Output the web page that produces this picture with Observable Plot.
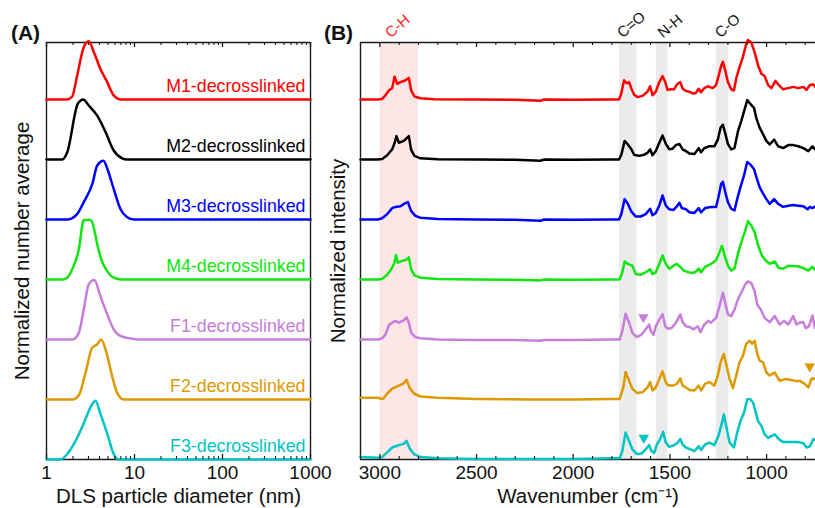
<!DOCTYPE html>
<html><head><meta charset="utf-8">
<script src="https://cdn.jsdelivr.net/npm/d3@7"></script>
<script src="https://cdn.jsdelivr.net/npm/@observablehq/plot@0.6"></script>
<style>
html,body{margin:0;padding:0;background:#fff;overflow:hidden;}
#chart{position:relative;width:815px;height:508px;}
#chart svg{position:absolute;top:0;overflow:visible;background:transparent;}
</style></head><body><div id="chart"></div>
<script>
// ---------- data ----------
const sampleNames = ["M1-decrosslinked","M2-decrosslinked","M3-decrosslinked","M4-decrosslinked","F1-decrosslinked","F2-decrosslinked","F3-decrosslinked"];
const stackOffsetA = [6,5,4,3,2,1,0];
const stackOffsetB = [6,5,4,3,2,1.02,0.03];

// DLS: [diameter nm, normalized number]
const dlsM1 = [[1,0],[1.7,0],[1.96,0.05],[2.23,0.4],[2.65,0.87],[3.02,0.97],[3.45,0.79],[4.1,0.51],[4.9,0.29],[5.8,0.07],[7.1,0],[1000,0]];
const dlsM2 = [[1,0],[1.51,0],[1.72,0.12],[2.27,0.93],[2.61,1.0],[3.02,0.9],[3.77,0.73],[4.68,0.46],[5.8,0.15],[7.25,0.02],[8.2,0],[1000,0]];
const dlsM3 = [[1,0],[1.72,0],[2.23,0.09],[2.65,0.29],[3.33,0.6],[3.77,0.9],[4.45,0.98],[4.9,0.85],[5.8,0.51],[6.9,0.18],[8.2,0.04],[9.8,0],[1000,0]];
const dlsM4 = [[1,0],[1.51,0],[1.72,0.03],[1.96,0.17],[2.33,0.5],[2.65,0.99],[3.17,0.99],[3.9,0.5],[4.2,0.33],[4.9,0.14],[5.8,0.03],[7.1,0],[1000,0]];
const dlsF1 = [[1,0],[1.98,0],[2.33,0.11],[2.65,0.5],[3.02,0.92],[3.5,0.99],[4.1,0.72],[4.9,0.42],[5.8,0.17],[6.9,0.06],[9.8,0.01],[12,0],[1000,0]];
const dlsF2 = [[1,0],[1.98,0],[2.33,0.07],[2.77,0.44],[3.3,0.86],[3.77,0.92],[4.18,1.0],[4.8,0.78],[5.57,0.39],[6.35,0.11],[7.57,0],[1000,0]];
const dlsF3 = [[1,0],[1.44,0],[1.72,0.09],[2.05,0.26],[2.65,0.6],[3.16,0.87],[3.6,0.98],[4.1,0.76],[4.9,0.43],[5.8,0.09],[6.6,0],[1000,0]];

// FTIR: [wavenumber cm-1, normalized intensity]
const ftirM1 = [[3100,0],[3010,0],[2988,0.01],[2971,0.07],[2953,0.15],[2936,0.19],[2924,0.38],[2910,0.26],[2893,0.29],[2867,0.32],[2850,0.36],[2838,0.15],[2821,0.05],[2790,0.02],[2720,0.005],[2500,0],[2300,-0.005],[2170,-0.02],[2150,0],[2000,-0.005],[1800,0],[1763,0],
 [1751,0.10],[1737,0.32],[1724,0.27],[1711,0.29],[1699,0.18],[1685,0.08],[1668,0.04],[1642,0.06],[1616,0.13],[1602,0.22],[1590,0.07],[1573,0.13],[1555,0.29],[1538,0.39],[1524,0.29],[1512,0.16],[1495,0.17],[1478,0.17],[1464,0.25],[1446,0.29],[1434,0.18],[1417,0.14],[1399,0.13],[1382,0.10],[1365,0.11],[1351,0.18],[1339,0.12],[1322,0.19],[1304,0.22],[1278,0.19],[1261,0.24],[1249,0.38],[1235,0.56],[1226,0.63],[1214,0.49],[1200,0.29],[1183,0.17],[1169,0.15],[1157,0.35],[1140,0.54],[1122,0.71],[1105,0.93],[1096,0.99],[1079,0.95],[1062,0.79],[1044,0.57],[1027,0.43],[1010,0.39],[992,0.24],[975,0.19],[954,0.31],[937,0.24],[914,0.17],[888,0.19],[862,0.21],[836,0.19],[810,0.21],[793,0.16],[776,0.24],[758,0.25],[741,0.18]];
const ftirM2 = [[3100,0],[3010,0],[2988,0.01],[2962,0.07],[2936,0.17],[2924,0.27],[2914,0.39],[2902,0.28],[2876,0.31],[2850,0.39],[2838,0.16],[2821,0.06],[2790,0.02],[2700,0.005],[2500,0],[2300,-0.005],[2170,-0.02],[2150,0],[2000,-0.005],[1800,0],[1763,0],
 [1751,0.08],[1734,0.31],[1717,0.25],[1699,0.17],[1685,0.08],[1659,0.06],[1633,0.08],[1616,0.11],[1602,0.17],[1590,0.07],[1573,0.14],[1555,0.28],[1538,0.40],[1521,0.26],[1503,0.17],[1486,0.18],[1469,0.24],[1451,0.26],[1434,0.17],[1417,0.14],[1399,0.10],[1373,0.09],[1351,0.19],[1339,0.12],[1322,0.19],[1296,0.22],[1270,0.22],[1252,0.33],[1238,0.53],[1226,0.58],[1214,0.44],[1200,0.26],[1183,0.17],[1166,0.19],[1148,0.47],[1131,0.64],[1114,0.83],[1100,0.99],[1082,0.92],[1065,0.86],[1053,0.69],[1036,0.53],[1018,0.42],[1001,0.31],[984,0.25],[961,0.33],[940,0.22],[914,0.19],[888,0.24],[862,0.24],[836,0.22],[810,0.19],[784,0.14],[763,0.22],[741,0.14]];
const ftirM3 = [[3100,0],[3010,0],[2988,0.02],[2962,0.09],[2936,0.19],[2919,0.21],[2893,0.22],[2876,0.26],[2855,0.29],[2838,0.14],[2816,0.06],[2790,0.03],[2700,0.01],[2500,0],[2300,-0.005],[2170,-0.02],[2150,0],[2000,-0.005],[1800,0],[1763,0],
 [1751,0.09],[1734,0.34],[1717,0.26],[1699,0.13],[1677,0.05],[1651,0.05],[1625,0.09],[1602,0.18],[1590,0.07],[1573,0.11],[1555,0.23],[1538,0.40],[1521,0.23],[1503,0.17],[1481,0.16],[1464,0.22],[1451,0.28],[1438,0.19],[1417,0.17],[1399,0.12],[1373,0.11],[1351,0.19],[1339,0.12],[1318,0.19],[1287,0.21],[1261,0.21],[1249,0.37],[1235,0.59],[1226,0.63],[1214,0.46],[1200,0.29],[1183,0.18],[1166,0.15],[1152,0.34],[1135,0.54],[1117,0.73],[1100,0.96],[1082,0.91],[1065,0.84],[1053,0.71],[1036,0.54],[1018,0.43],[1001,0.34],[984,0.26],[961,0.34],[940,0.26],[914,0.21],[888,0.23],[862,0.24],[836,0.23],[810,0.22],[788,0.17],[776,0.21],[763,0.19],[741,0.23]];
const ftirM4 = [[3100,0],[3010,0],[2988,0.01],[2962,0.08],[2941,0.17],[2924,0.28],[2917,0.41],[2907,0.28],[2884,0.31],[2862,0.33],[2850,0.37],[2838,0.17],[2821,0.07],[2790,0.03],[2700,0.01],[2500,0],[2300,-0.005],[2170,-0.015],[2150,0],[2000,-0.005],[1800,0],[1760,0],
 [1746,0.12],[1734,0.30],[1717,0.26],[1694,0.23],[1677,0.09],[1651,0.08],[1625,0.12],[1602,0.17],[1590,0.09],[1573,0.12],[1555,0.26],[1538,0.40],[1521,0.26],[1503,0.18],[1481,0.23],[1464,0.26],[1446,0.21],[1429,0.15],[1412,0.13],[1391,0.11],[1370,0.12],[1351,0.18],[1339,0.12],[1318,0.21],[1287,0.26],[1261,0.32],[1243,0.46],[1231,0.56],[1217,0.40],[1200,0.23],[1183,0.15],[1166,0.18],[1148,0.43],[1131,0.62],[1114,0.78],[1096,0.97],[1079,0.90],[1062,0.79],[1044,0.57],[1024,0.40],[1006,0.32],[984,0.26],[958,0.30],[937,0.19],[914,0.18],[888,0.23],[862,0.22],[836,0.22],[810,0.19],[784,0.15],[763,0.21],[741,0.13]];
const ftirF1 = [[3100,0],[3010,0],[2988,0.02],[2971,0.08],[2953,0.24],[2936,0.28],[2919,0.31],[2902,0.28],[2876,0.32],[2862,0.37],[2850,0.28],[2838,0.11],[2816,0.04],[2790,0.02],[2700,0],[2500,-0.01],[2300,-0.01],[2170,-0.02],[2150,-0.01],[2000,-0.01],[1800,0],[1760,0],
 [1746,0.14],[1729,0.43],[1711,0.28],[1694,0.11],[1671,0.04],[1647,0.08],[1625,0.17],[1607,0.25],[1599,0.14],[1585,0.08],[1573,0.22],[1555,0.33],[1538,0.42],[1524,0.22],[1512,0.18],[1491,0.19],[1469,0.28],[1446,0.42],[1434,0.29],[1417,0.22],[1399,0.21],[1377,0.17],[1356,0.22],[1342,0.12],[1322,0.25],[1301,0.31],[1287,0.28],[1261,0.36],[1243,0.56],[1226,0.78],[1214,0.61],[1200,0.42],[1183,0.39],[1166,0.50],[1148,0.67],[1131,0.78],[1110,0.92],[1096,0.97],[1079,0.94],[1062,0.81],[1048,0.58],[1030,0.50],[1010,0.36],[984,0.29],[958,0.39],[932,0.25],[909,0.31],[888,0.25],[862,0.39],[845,0.25],[828,0.28],[810,0.29],[798,0.19],[781,0.22],[763,0.40],[750,0.19],[741,0.24]];
const ftirF2 = [[3100,0.01],[3014,0.01],[2983,-0.01],[2962,0.08],[2936,0.16],[2902,0.21],[2876,0.25],[2862,0.31],[2845,0.17],[2824,0.08],[2790,0.03],[2700,0.01],[2500,-0.01],[2200,-0.02],[2000,-0.02],[1800,-0.01],[1760,-0.01],
 [1741,0.18],[1729,0.44],[1711,0.29],[1694,0.16],[1671,0.09],[1642,0.10],[1616,0.18],[1602,0.27],[1590,0.13],[1573,0.18],[1555,0.32],[1538,0.45],[1524,0.29],[1512,0.22],[1486,0.21],[1464,0.24],[1446,0.33],[1434,0.21],[1417,0.18],[1399,0.14],[1373,0.13],[1351,0.21],[1339,0.13],[1318,0.24],[1296,0.27],[1270,0.21],[1252,0.38],[1238,0.60],[1221,0.74],[1209,0.57],[1191,0.32],[1174,0.17],[1157,0.38],[1140,0.60],[1122,0.71],[1105,0.91],[1087,0.96],[1075,0.91],[1062,0.96],[1048,0.74],[1036,0.63],[1018,0.60],[1001,0.43],[984,0.38],[958,0.43],[932,0.29],[905,0.32],[879,0.31],[853,0.29],[828,0.29],[802,0.24],[784,0.18],[767,0.33],[750,0.32],[741,0.38]];
const ftirF3 = [[3100,0.01],[3010,0],[2988,0.01],[2962,0.09],[2936,0.17],[2902,0.21],[2876,0.23],[2862,0.28],[2845,0.15],[2824,0.06],[2790,0.01],[2700,-0.01],[2500,-0.02],[2200,-0.02],[2000,-0.02],[1800,-0.01],[1760,-0.01],
 [1746,0.11],[1729,0.42],[1711,0.28],[1694,0.14],[1671,0.06],[1647,0.07],[1625,0.14],[1607,0.21],[1595,0.11],[1581,0.08],[1567,0.22],[1550,0.31],[1535,0.43],[1521,0.25],[1503,0.18],[1478,0.21],[1460,0.25],[1446,0.31],[1434,0.22],[1417,0.17],[1394,0.14],[1373,0.11],[1351,0.19],[1339,0.13],[1318,0.22],[1296,0.25],[1270,0.21],[1249,0.36],[1231,0.58],[1221,0.72],[1209,0.53],[1191,0.25],[1169,0.17],[1152,0.42],[1135,0.61],[1117,0.75],[1100,0.97],[1087,0.98],[1070,0.92],[1058,0.78],[1044,0.61],[1027,0.53],[1010,0.39],[992,0.33],[975,0.36],[958,0.39],[937,0.31],[914,0.26],[888,0.26],[862,0.26],[836,0.26],[810,0.24],[793,0.17],[776,0.19],[758,0.31],[741,0.28]];

const dlsMajorTicks = [1,10,100,1000];
const dlsMinorTicks = [2,3,4,5,6,7,8,9,20,30,40,50,60,70,80,90,200,300,400,500,600,700,800,900];
const wnMajorTicks = [3000,2500,2000,1500,1000];
const wnMinorTicks = [3100,2900,2800,2700,2600,2400,2300,2200,2100,1900,1800,1700,1600,1400,1300,1200,1100,900,800];

const bandNames = ["C-H","C=O","N-H","C-O"];
const bandLo = [2800,1670,1510,1195];
const bandHi = [3000,1760,1570,1260];
const bandLabelAt = [2945,1745,1535,1240];

const markerSample = ["F1-decrosslinked","F2-decrosslinked","F3-decrosslinked"];
const markerWn = [1637,777,1635];
const markerLevel = [0.37,0.53,0.33];

// ---------- styles ----------
const sampleColors = ["#ff0000","#000000","#0000ff","#0ee60e","#c67ddc","#dd9900","#00c4c4"];
const bandFills = ["#fde6e6","#ebebeb","#ebebeb","#ebebeb"];
const bandTextColors = ["#ff1a1a","#111","#111","#111"];
const FONT = "'Liberation Sans', Arial, Helvetica, sans-serif";
const yTop = 6.95;
const unitPx = 417 / yTop;
const majLen = 5 / unitPx, minLen = 3 / unitPx;
const axisColor = "#1a1a1a";

// ---------- tables ----------
const dlsAll = [dlsM1,dlsM2,dlsM3,dlsM4,dlsF1,dlsF2,dlsF3];
const ftirAll = [ftirM1,ftirM2,ftirM3,ftirM4,ftirF1,ftirF2,ftirF3];
const dlsRows = dlsAll.flatMap((s,i)=>s.map(([d,v])=>({sample:sampleNames[i], d, y: stackOffsetA[i]+v})));
const ftirRows = ftirAll.flatMap((s,i)=>s.map(([w,v])=>({sample:sampleNames[i], w, y: stackOffsetB[i]+v})));
const labelRows = sampleNames.map((s,i)=>({sample:s, y: stackOffsetA[i]}));
const markerRows = markerSample.map((s,k)=>({sample:s, w: markerWn[k], y: stackOffsetB[sampleNames.indexOf(s)] + markerLevel[k]}));

function tickMarks(major, minor, y0, y1) {
  return [
    Plot.ruleX(major, {y1: y0, y2: y0 + majLen, stroke: axisColor, strokeWidth: 1.3}),
    Plot.ruleX(minor, {y1: y0, y2: y0 + minLen, stroke: axisColor, strokeWidth: 1.1}),
    Plot.ruleX(major, {y1: y1, y2: y1 - majLen, stroke: axisColor, strokeWidth: 1.3}),
    Plot.ruleX(minor, {y1: y1, y2: y1 - minLen, stroke: axisColor, strokeWidth: 1.1})
  ];
}

const commonStyle = {fontFamily: FONT, fontSize: "19px", color: "#111", background: "transparent", overflow: "visible"};
const TICK_FS = 19, TITLE_FS = 20.5, SERIES_FS = 17.8, BAND_FS = 15, PANEL_FS = 21;

const plotA = Plot.plot({
  width: 330, height: 508,
  marginLeft: 46, marginRight: 20, marginTop: 42, marginBottom: 49,
  x: {type: "log", domain: [1, 1000]},
  y: {domain: [0, yTop], axis: null},
  color: {domain: sampleNames, range: sampleColors},
  style: commonStyle,
  marks: [
    Plot.ruleY([0, yTop], {stroke: axisColor, strokeWidth: 1.4}),
    Plot.ruleX([1, 1000], {stroke: axisColor, strokeWidth: 1.4}),
    Plot.line(dlsRows, {x: "d", y: "y", z: "sample", stroke: "sample", strokeWidth: 2.5, strokeLinejoin: "round", curve: "monotone-x"}),
    ...tickMarks(dlsMajorTicks, dlsMinorTicks, 0, yTop),
    Plot.axisX({ticks: dlsMajorTicks, tickSize: 0, tickPadding: 6, tickFormat: d => String(d), fontSize: TICK_FS, label: null}),
    Plot.text(labelRows, {y: "y", text: "sample", fill: "sample", frameAnchor: "right", textAnchor: "end", lineAnchor: "middle", dx: -5, dy: -13, fontSize: SERIES_FS}),
    Plot.text(["DLS particle diameter (nm)"], {text: d => d, frameAnchor: "bottom", textAnchor: "middle", lineAnchor: "middle", dy: 37, fontSize: TITLE_FS}),
    Plot.text(["Normalized number average"], {text: d => d, frameAnchor: "left", textAnchor: "middle", lineAnchor: "middle", rotate: -90, dx: -24, fontSize: TITLE_FS}),
    Plot.text(["(A)"], {text: d => d, frameAnchor: "top-left", textAnchor: "middle", lineAnchor: "middle", dx: -21, dy: -9, fontSize: PANEL_FS, fontWeight: "bold"})
  ]
});
plotA.style.left = "0px";

const plotB = Plot.plot({
  width: 500, height: 508,
  marginLeft: 45, marginRight: 0, marginTop: 42, marginBottom: 49,
  x: {domain: [3100, 747]},
  y: {domain: [0, yTop], axis: null},
  color: {domain: sampleNames, range: sampleColors},
  style: commonStyle,
  marks: [
    ...bandNames.map((n,i) => Plot.rect([n], {x1: () => bandLo[i], x2: () => bandHi[i], fill: bandFills[i]})),
    Plot.ruleY([0, yTop], {stroke: axisColor, strokeWidth: 1.4}),
    Plot.ruleX([3100], {stroke: axisColor, strokeWidth: 1.4}),
    Plot.line(ftirRows, {x: "w", y: "y", z: "sample", stroke: "sample", strokeWidth: 2.5, strokeLinejoin: "round"}),
    Plot.dot(markerRows, {x: "w", y: "y", fill: "sample", symbol: "triangle", rotate: 180, r: 3.9}),
    ...tickMarks(wnMajorTicks, wnMinorTicks, 0, yTop),
    Plot.axisX({ticks: wnMajorTicks, tickSize: 0, tickPadding: 6, tickFormat: d => String(d), fontSize: TICK_FS, label: null}),
    ...bandNames.map((n,i) => Plot.text([n], {x: () => bandLabelAt[i], text: d => d, frameAnchor: "top", textAnchor: "start", lineAnchor: "bottom", rotate: -40, dy: -4, fontSize: BAND_FS, fill: bandTextColors[i]})),
    Plot.text(["Wavenumber (cm⁻¹)"], {text: d => d, frameAnchor: "bottom", textAnchor: "middle", lineAnchor: "middle", dy: 37, fontSize: TITLE_FS}),
    Plot.text(["Normalized intensity"], {text: d => d, frameAnchor: "left", textAnchor: "middle", lineAnchor: "middle", rotate: -90, dx: -22, fontSize: TITLE_FS}),
    Plot.text(["(B)"], {text: d => d, frameAnchor: "top-left", textAnchor: "middle", lineAnchor: "middle", dx: -22, dy: -9, fontSize: PANEL_FS, fontWeight: "bold"})
  ]
});
plotB.style.left = "315px";

const root = document.getElementById("chart");
root.appendChild(plotA);
root.appendChild(plotB);
</script></body></html>
